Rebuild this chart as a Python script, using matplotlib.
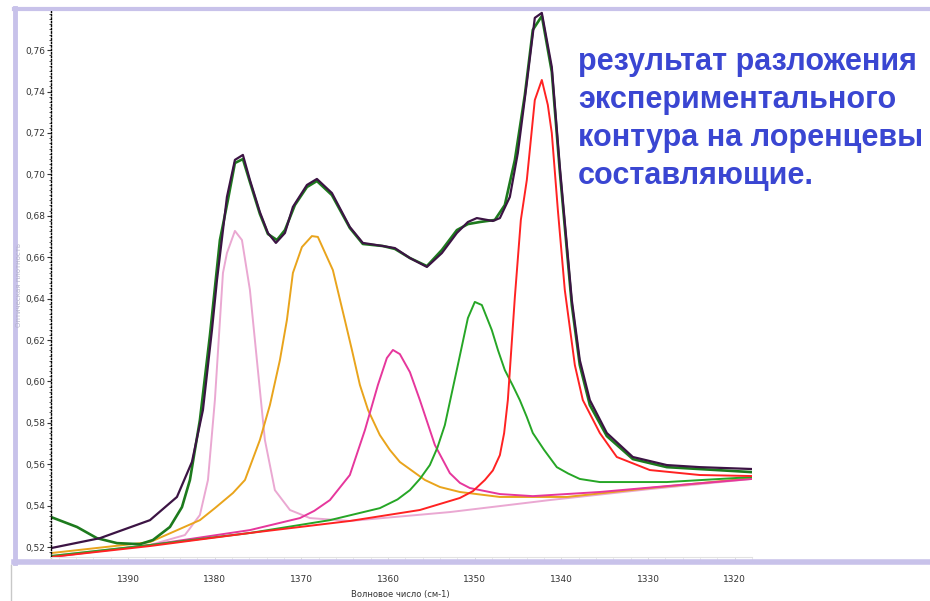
import matplotlib.pyplot as plt
from matplotlib.lines import Line2D
from matplotlib.ticker import MultipleLocator, FuncFormatter

# total experimental contour (dark purple)
w_total = [1398.88, 1393.23, 1387.46, 1384.35, 1382.62, 1381.35, 1380.31, 1379.73, 1378.58, 1377.66,
           1376.74, 1375.93, 1374.78, 1373.85, 1372.93, 1371.89, 1370.97, 1369.35, 1368.20, 1366.47,
           1364.40, 1362.90, 1360.59, 1359.20, 1357.47, 1355.51, 1353.78, 1352.05, 1350.78, 1349.75,
           1347.90, 1347.09, 1345.94, 1345.02, 1343.98, 1343.06, 1342.25, 1341.10, 1340.17, 1338.79,
           1337.87, 1336.71, 1334.75, 1331.75, 1327.83, 1324.03, 1318.03]
v_total = [0.5195, 0.5243, 0.5330, 0.5442, 0.5611, 0.5862, 0.6248, 0.6490, 0.6891, 0.7070,
           0.7094, 0.6973, 0.6818, 0.6717, 0.6669, 0.6717, 0.6843, 0.6949, 0.6978, 0.6910,
           0.6746, 0.6669, 0.6654, 0.6644, 0.6596, 0.6553, 0.6620, 0.6717, 0.6770, 0.6789,
           0.6775, 0.6789, 0.6891, 0.7103, 0.7442, 0.7756, 0.7780, 0.7519, 0.7036, 0.6393,
           0.6103, 0.5910, 0.5751, 0.5635, 0.5596, 0.5586, 0.5577]

# sum of fitted components (dark green)
w_fit = [1398.88, 1395.88, 1393.58, 1391.27, 1388.62, 1387.12, 1385.16, 1383.77, 1382.85, 1381.70,
         1380.54, 1379.39, 1378.47, 1377.66, 1376.74, 1375.93, 1374.78, 1373.85, 1372.81, 1371.89,
         1370.74, 1369.35, 1368.20, 1366.47, 1364.40, 1362.90, 1360.59, 1359.20, 1357.47, 1355.51,
         1353.78, 1352.05, 1350.78, 1349.40, 1347.67, 1346.52, 1345.36, 1344.21, 1343.29, 1342.25,
         1341.10, 1340.17, 1338.79, 1337.87, 1336.71, 1334.75, 1331.75, 1327.83, 1318.03]
v_fit = [0.5345, 0.5297, 0.5243, 0.5219, 0.5214, 0.5234, 0.5297, 0.5393, 0.5524, 0.5814,
         0.6224, 0.6683, 0.6876, 0.7055, 0.7074, 0.6963, 0.6809, 0.6712, 0.6683, 0.6731,
         0.6852, 0.6939, 0.6968, 0.6900, 0.6741, 0.6664, 0.6654, 0.6640, 0.6596, 0.6557,
         0.6635, 0.6731, 0.6760, 0.6770, 0.6780, 0.6852, 0.7070, 0.7384, 0.7698, 0.7765,
         0.7495, 0.7012, 0.6369, 0.6079, 0.5886, 0.5736, 0.5625, 0.5586, 0.5562]

# lorentz components
w_pink = [1398.88, 1387.46, 1383.43, 1381.70, 1380.77, 1379.97, 1379.04, 1378.58, 1377.66, 1376.85,
          1375.93, 1375.01, 1374.20, 1373.05, 1371.31, 1369.01, 1364.40, 1352.86, 1341.33, 1329.79, 1318.03]
v_pink = [0.5157, 0.5210, 0.5258, 0.5355, 0.5524, 0.5910, 0.6524, 0.6620, 0.6727, 0.6683,
          0.6442, 0.6055, 0.5717, 0.5475, 0.5379, 0.5340, 0.5326, 0.5369, 0.5427, 0.5480, 0.5529]

w_orange = [1398.88, 1387.46, 1381.70, 1379.97, 1377.89, 1376.50, 1374.78, 1373.62, 1372.47, 1371.66,
            1370.97, 1369.93, 1368.78, 1368.09, 1366.36, 1364.98, 1364.16, 1363.24, 1362.30, 1360.94,
            1359.78, 1358.63, 1355.74, 1354.00, 1351.71, 1347.09, 1339.37, 1329.79, 1318.03]
v_orange = [0.5171, 0.5224, 0.5330, 0.5388, 0.5461, 0.5524, 0.5717, 0.5886, 0.6103, 0.6297,
            0.6524, 0.6649, 0.6702, 0.6698, 0.6538, 0.6297, 0.6152, 0.5983, 0.5862, 0.5741,
            0.5669, 0.5611, 0.5524, 0.5490, 0.5466, 0.5442, 0.5442, 0.5485, 0.5533]

w_magenta = [1398.88, 1387.46, 1375.93, 1370.16, 1368.50, 1366.70, 1364.40, 1362.66, 1361.16, 1360.13,
             1359.43, 1358.63, 1357.47, 1356.32, 1354.59, 1352.86, 1351.70, 1350.55, 1347.09, 1343.29,
             1335.56, 1326.33, 1318.03]
v_magenta = [0.5152, 0.5210, 0.5282, 0.5340, 0.5375, 0.5427, 0.5548, 0.5765, 0.5983, 0.6113,
             0.6152, 0.6132, 0.6045, 0.5910, 0.5693, 0.5557, 0.5510, 0.5485, 0.5456, 0.5446,
             0.5466, 0.5500, 0.5529]

w_green = [1398.88, 1387.46, 1375.93, 1366.70, 1360.94, 1358.90, 1357.47, 1356.30, 1355.17, 1354.30,
           1353.44, 1351.94, 1350.78, 1349.98, 1349.17, 1348.02, 1347.30, 1346.52, 1345.60, 1344.79,
           1344.00, 1343.29, 1342.00, 1340.52, 1339.20, 1337.87, 1335.56, 1327.83, 1318.03]
v_green = [0.5157, 0.5210, 0.5268, 0.5330, 0.5388, 0.5430, 0.5475, 0.5530, 0.5596, 0.5680,
           0.5789, 0.6079, 0.6306, 0.6384, 0.6369, 0.6248, 0.6150, 0.6055, 0.5980, 0.5910,
           0.5830, 0.5751, 0.5670, 0.5586, 0.5555, 0.5529, 0.5514, 0.5514, 0.5538]

w_red = [1398.88, 1387.46, 1375.93, 1364.40, 1356.32, 1351.71, 1350.20, 1348.82, 1347.90, 1347.09,
         1346.60, 1346.17, 1345.36, 1344.67, 1343.98, 1343.06, 1342.25, 1341.56, 1341.10, 1340.40,
         1339.60, 1338.44, 1337.52, 1335.56, 1333.60, 1329.79, 1324.03, 1318.03]
v_red = [0.5152, 0.5205, 0.5268, 0.5326, 0.5379, 0.5437, 0.5470, 0.5524, 0.5570, 0.5644,
         0.5750, 0.5910, 0.6408, 0.6780, 0.6973, 0.7359, 0.7456, 0.7336, 0.7200, 0.6828,
         0.6442, 0.6079, 0.5910, 0.5751, 0.5635, 0.5572, 0.5548, 0.5543]

caption = ["результат разложения", "экспериментального", "контура на лоренцевы", "составляющие."]

W, H = 930, 601
fig = plt.figure(figsize=(W / 100, H / 100), dpi=100)
fig.patch.set_facecolor("white")


def fx(px):
    return px / W


def fy(py):
    return 1 - py / H


# lavender screenshot frame
lav = "#c8c2ea"
fig.add_artist(Line2D([fx(14), fx(935)], [fy(9), fy(9)], color=lav, lw=3, transform=fig.transFigure))
fig.add_artist(Line2D([fx(15), fx(15)], [fy(8), fy(563)], color=lav, lw=3.5, transform=fig.transFigure))
fig.add_artist(Line2D([fx(14), fx(935)], [fy(562), fy(562)], color=lav, lw=4, transform=fig.transFigure))
fig.add_artist(Line2D([fx(11), fx(11)], [fy(565), fy(601)], color="#c8c8c8", lw=1, transform=fig.transFigure))

ax = fig.add_axes([fx(51), fy(557), fx(752) - fx(51), fy(10) - fy(557)])
ax.set_facecolor("none")

ax.plot(w_pink, v_pink, color="#eaa8d2", lw=1.4)
ax.plot(w_orange, v_orange, color="#e9a41c", lw=1.4)
ax.plot(w_magenta, v_magenta, color="#e6379c", lw=1.4)
ax.plot(w_green, v_green, color="#26a626", lw=1.4)
ax.plot(w_red, v_red, color="#ff2222", lw=1.4)
ax.plot(w_fit, v_fit, color="#1d7a1d", lw=1.9)
ax.plot(w_total, v_total, color="#3c1444", lw=1.6)

ax.set_xlim(1398.88, 1318.0)
ax.set_ylim(0.5152, 0.7794)

for s in ["top", "right"]:
    ax.spines[s].set_visible(False)
ax.spines["left"].set_linestyle((0, (1, 1.5)))
ax.spines["left"].set_linewidth(1.0)
ax.spines["bottom"].set_color("#e2e2e2")
ax.spines["bottom"].set_linewidth(0.8)

ax.yaxis.set_major_locator(MultipleLocator(0.02))
ax.yaxis.set_minor_locator(MultipleLocator(0.0025))
ax.yaxis.set_major_formatter(FuncFormatter(lambda v, p: f"{v:.2f}".replace(".", ",")))
ax.xaxis.set_major_locator(MultipleLocator(10))
ax.xaxis.set_minor_locator(MultipleLocator(2))

ax.tick_params(axis="y", which="major", length=3, width=0.8, labelsize=6.5, colors="#333333", pad=1)
ax.tick_params(axis="y", which="minor", length=1.5, width=0.6, colors="#333333")
ax.tick_params(axis="x", which="major", length=3, width=0.6, color="#d8d8d8", labelsize=6.5,
               labelcolor="#333333", pad=10)
ax.tick_params(axis="x", which="minor", length=2, width=0.5, color="#e2e2e2")
for lab in ax.get_xticklabels() + ax.get_yticklabels():
    lab.set_fontfamily(["Liberation Sans Narrow", "DejaVu Sans"])

fig.text(fx(400), fy(594), "Волновое число (см-1)", fontsize=6, color="#333333",
         ha="center", va="center", family=["Liberation Sans Narrow", "DejaVu Sans"])
fig.text(fx(19), fy(285), "Оптическая плотность", fontsize=5, color="#b4b2cc",
         rotation=90, ha="center", va="center")

for i, line in enumerate(caption):
    fig.text(fx(578), fy(62 + 38 * i), line, fontsize=22, fontweight="bold", color="#3a46d2",
             ha="left", va="center", family=["Liberation Sans", "DejaVu Sans"])

fig.savefig("out.png", dpi=100)
